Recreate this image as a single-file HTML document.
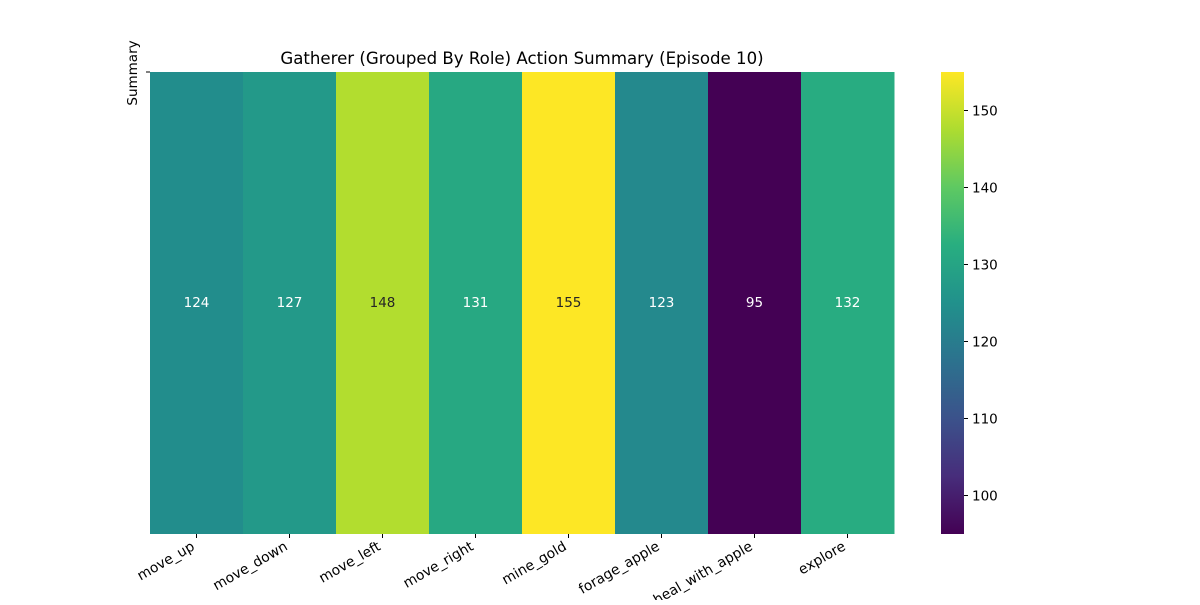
<!DOCTYPE html>
<html><head><meta charset="utf-8"><style>
body{margin:0;background:#fff;}
svg text{font-family:"DejaVu Sans","Liberation Sans",sans-serif;}
</style></head><body>
<svg id="c" width="1200" height="600" xmlns="http://www.w3.org/2000/svg">
<defs><linearGradient id="vg" x1="0" y1="1" x2="0" y2="0">
<stop offset="0" stop-color="#440154"/><stop offset="0.125" stop-color="#472d7b"/><stop offset="0.25" stop-color="#3b528b"/><stop offset="0.375" stop-color="#2c728e"/><stop offset="0.5" stop-color="#21918c"/><stop offset="0.625" stop-color="#28ae80"/><stop offset="0.75" stop-color="#5ec962"/><stop offset="0.875" stop-color="#addc30"/><stop offset="1" stop-color="#fde725"/>
</linearGradient></defs>
<text x="522" y="64" font-size="16.6" text-anchor="middle">Gatherer (Grouped By Role) Action Summary (Episode 10)</text>
<text transform="translate(137,73) rotate(-90)" font-size="13.5" text-anchor="middle">Summary</text>
<line x1="146" y1="72" x2="150" y2="72" stroke="#000"/>
<g id="cells"></g><g id="xt"></g>
<rect x="941" y="72" width="23" height="462" fill="url(#vg)"/>
<g id="cb"></g>
</svg>
<script>
const categories=["move_up","move_down","move_left","move_right","mine_gold","forage_apple","heal_with_apple","explore"];
const values=[124,127,148,131,155,123,95,132];
const cbTicks=[100,110,120,130,140,150];
const vmin=95,vmax=155;
const stops=["#440154","#472d7b","#3b528b","#2c728e","#21918c","#28ae80","#5ec962","#addc30","#fde725"];
function hex(h){return [1,3,5].map(i=>parseInt(h.substr(i,2),16));}
function viridis(t){t=Math.max(0,Math.min(1,t));const p=t*(stops.length-1),i=Math.min(stops.length-2,Math.floor(p)),f=p-i;const a=hex(stops[i]),b=hex(stops[i+1]);return "rgb("+a.map((v,k)=>Math.round(v+(b[k]-v)*f)).join(",")+")";}
const x0=150,x1=894,y0=72,y1=534,cw=(x1-x0)/categories.length;
const xs=i=>x0+i*cw;
const cy=v=>y1-(v-vmin)/(vmax-vmin)*(y1-y0);
const NS="http://www.w3.org/2000/svg";
function mk(t,a,p){const e=document.createElementNS(NS,t);for(const k in a)e.setAttribute(k,a[k]);p.appendChild(e);return e;}
const cells=document.getElementById('cells'),xt=document.getElementById('xt'),cb=document.getElementById('cb');
values.forEach((v,i)=>{
 const t=(v-vmin)/(vmax-vmin);
 const r=mk('rect',{x:xs(i),y:y0,width:cw+0.5,height:y1-y0,fill:viridis(t)},cells);
 
 
 const tx=mk('text',{x:xs(i)+cw/2,y:(y0+y1)/2+4,'font-size':13.5,'text-anchor':'middle',fill:t>0.7?'#262626':'#fff'},cells);
 tx.textContent=v;
 
 
 const cx=xs(i)+cw/2;
 const tk=mk('line',{x1:cx,y1:y1,x2:cx,y2:y1+4,stroke:'#000'},xt);
 
 
 const lb=mk('text',{transform:`translate(${cx-1},${y1+15}) rotate(-30)`,'font-size':13.9,'text-anchor':'end'},xt);
 lb.textContent=categories[i];
 
 
});
cbTicks.forEach(v=>{
 const y=cy(v);
 const l=mk('line',{x1:964,y1:y,x2:968,y2:y,stroke:'#000'},cb);
 
 
 const t=mk('text',{x:972,y:y+5,'font-size':13.5},cb);
 t.textContent=v;
 
 
});
</script>
</body></html>
